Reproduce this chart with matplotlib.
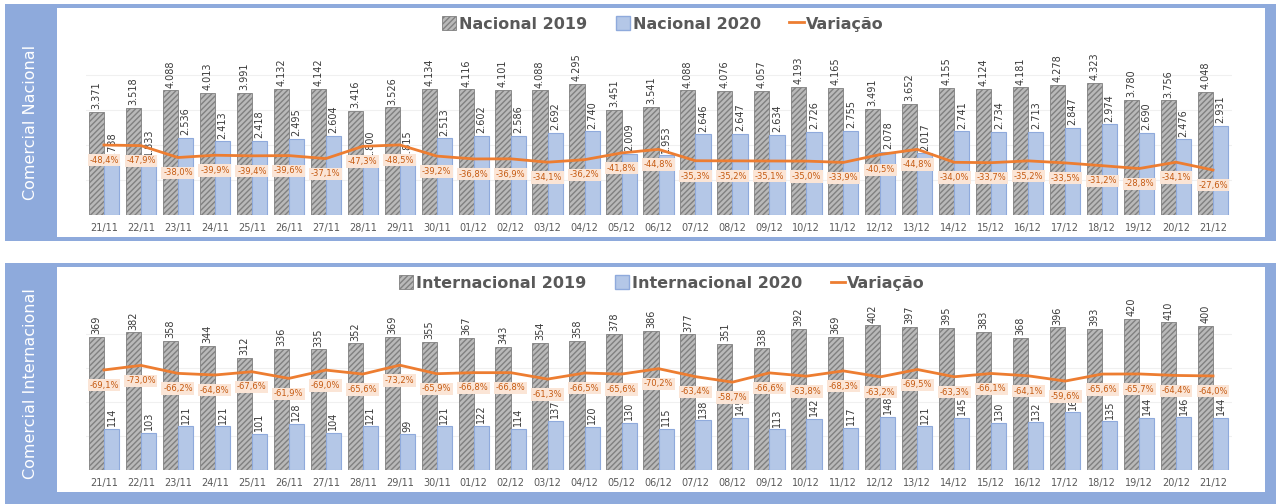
"""Movimentos comerciais 2019 vs 2020 (nacional e internacional)"""

import matplotlib
matplotlib.use("Agg")
import matplotlib.pyplot as plt
from matplotlib.patches import Rectangle, Patch
from matplotlib.lines import Line2D

# Data
dates = ["21/11", "22/11", "23/11", "24/11", "25/11", "26/11", "27/11", "28/11", "29/11", "30/11",
         "01/12", "02/12", "03/12", "04/12", "05/12", "06/12", "07/12", "08/12", "09/12", "10/12",
         "11/12", "12/12", "13/12", "14/12", "15/12", "16/12", "17/12", "18/12", "19/12", "20/12", "21/12"]

nac_2019 = [3371, 3518, 4088, 4013, 3991, 4132, 4142, 3416, 3526, 4134,
            4116, 4101, 4088, 4295, 3451, 3541, 4088, 4076, 4057, 4193,
            4165, 3491, 3652, 4155, 4124, 4181, 4278, 4323, 3780, 3756, 4048]
nac_2020 = [1738, 1833, 2536, 2413, 2418, 2495, 2604, 1800, 1815, 2513,
            2602, 2586, 2692, 2740, 2009, 1953, 2646, 2647, 2634, 2726,
            2755, 2078, 2017, 2741, 2734, 2713, 2847, 2974, 2690, 2476, 2931]
nac_var = [-48.4, -47.9, -38.0, -39.9, -39.4, -39.6, -37.1, -47.3, -48.5, -39.2,
           -36.8, -36.9, -34.1, -36.2, -41.8, -44.8, -35.3, -35.2, -35.1, -35.0,
           -33.9, -40.5, -44.8, -34.0, -33.7, -35.2, -33.5, -31.2, -28.8, -34.1, -27.6]

int_2019 = [369, 382, 358, 344, 312, 336, 335, 352, 369, 355,
            367, 343, 354, 358, 378, 386, 377, 351, 338, 392,
            369, 402, 397, 395, 383, 368, 396, 393, 420, 410, 400]
int_2020 = [114, 103, 121, 121, 101, 128, 104, 121, 99, 121,
            122, 114, 137, 120, 130, 115, 138, 145, 113, 142,
            117, 148, 121, 145, 130, 132, 160, 135, 144, 146, 144]
int_var = [-69.1, -73.0, -66.2, -64.8, -67.6, -61.9, -69.0, -65.6, -73.2, -65.9,
           -66.8, -66.8, -61.3, -66.5, -65.6, -70.2, -63.4, -58.7, -66.6, -63.8,
           -68.3, -63.2, -69.5, -63.3, -66.1, -64.1, -59.6, -65.6, -65.7, -64.4, -64.0]

# Style
W, H = 1276, 504
BLUE = "#8eaadc"
GREY_TXT = "#595959"
C2019 = "#b9b9b9"
C2020 = "#b4c7e7"
ORANGE = "#ed7d31"

plt.rcParams["hatch.color"] = "#6e6e6e"
plt.rcParams["hatch.linewidth"] = 1.0

fig = plt.figure(figsize=(W / 100, H / 100), dpi=100)
fig.patch.set_facecolor("white")


def fx(px):
    return px / W


def fy(py):
    return 1 - py / H


def rect(x0, y0, x1, y1, color):
    fig.patches.append(Rectangle((fx(x0), fy(y1)), fx(x1 - x0), (y1 - y0) / H,
                                 transform=fig.transFigure, facecolor=color,
                                 edgecolor="none", zorder=-5))


def fmt_num(v):
    return f"{v:,}".replace(",", ".")


def fmt_pct(v):
    return f"{v:.1f}%".replace(".", ",")


def panel(y_top, y_bot, ax_top, ax_bot, ymax, vlim, title, v19, v20, var, names, leg_y, leg_x):
    # frame
    rect(5, y_top, 1276, y_bot, BLUE)
    rect(57, y_top + 4, 1265, y_bot - (4 if y_bot < 300 else 12), "white")
    fig.text(fx(31), fy((y_top + y_bot) / 2), title, rotation=90, color="white",
             fontsize=11.5, ha="center", va="center")

    ax = fig.add_axes([fx(85.5), fy(ax_bot), fx(1146), (ax_bot - ax_top) / H])
    ax.set_facecolor("none")
    ax.set_zorder(2)
    x = list(range(len(dates)))
    w = 0.41
    ax.grid(axis="y", color="#f0f0f0", linewidth=0.8, zorder=0)
    b19 = ax.bar([i - w / 2 for i in x], v19, width=w, color=C2019, hatch="//////",
                 edgecolor="#808080", linewidth=0.6, zorder=2)
    b20 = ax.bar([i + w / 2 for i in x], v20, width=w, color=C2020,
                 edgecolor="#8faadc", linewidth=0.8, zorder=2)
    for bar, v in zip(b19, v19):
        ax.annotate(fmt_num(v), (bar.get_x() + bar.get_width() / 2, bar.get_height()),
                    xytext=(0, 2), textcoords="offset points", rotation=90,
                    ha="center", va="bottom", fontsize=7, color="#3a3a3a")
    for bar, v in zip(b20, v20):
        ax.annotate(fmt_num(v), (bar.get_x() + bar.get_width() / 2, bar.get_height()),
                    xytext=(0, 2), textcoords="offset points", rotation=90,
                    ha="center", va="bottom", fontsize=7, color="#3a3a3a")
    ax.set_xlim(-0.5, len(dates) - 0.5)
    ax.set_ylim(0, ymax)
    ax.set_yticks([i * (ymax / 5) for i in range(1, 5)])
    ax.set_yticklabels([])
    ax.set_xticks(x)
    ax.set_xticklabels(dates, fontsize=7, color=GREY_TXT)
    ax.tick_params(length=0, pad=6)
    ax.set_axisbelow(True)
    for s in ax.spines.values():
        s.set_visible(False)

    ax2 = ax.twinx()
    ax2.set_zorder(3)
    ax2.plot(x, var, color=ORANGE, linewidth=2, zorder=3)
    ax2.set_ylim(*vlim)
    for i, v in zip(x, var):
        ax2.annotate(fmt_pct(v), (i, v), xytext=(0, -11), textcoords="offset points",
                     ha="center", va="center", fontsize=6, color="#c55a11",
                     bbox=dict(boxstyle="square,pad=0.2", facecolor="#fbe5d6",
                               edgecolor="none"), zorder=4)
    ax2.set_yticks([])
    for s in ax2.spines.values():
        s.set_visible(False)

    handles = [Patch(facecolor=C2019, hatch="//////", edgecolor="#808080", linewidth=0.6),
               Patch(facecolor=C2020, edgecolor="#8faadc"),
               Line2D([0], [0], color=ORANGE, linewidth=2)]
    fig.legend(handles, names, loc="center", bbox_to_anchor=(fx(leg_x), fy(leg_y)),
               ncol=3, frameon=False, prop={"size": 11.5, "weight": "bold"},
               labelcolor=GREY_TXT, handlelength=0.9, handleheight=0.9,
               handletextpad=0.15, columnspacing=1.8)


panel(4, 241, 40, 215, 175 / 0.0305, (9.9, -135.9), "Comercial Nacional",
      nac_2019, nac_2020, nac_var, ["Nacional 2019", "Nacional 2020", "Variação"], 24, 663)
panel(263, 504, 300, 470, 170 / 0.36, (16.4, -128.9), "Comercial Internacional",
      int_2019, int_2020, int_var, ["Internacional 2019", "Internacional 2020", "Variação"], 283, 662)

fig.savefig("out.png", dpi=100)
